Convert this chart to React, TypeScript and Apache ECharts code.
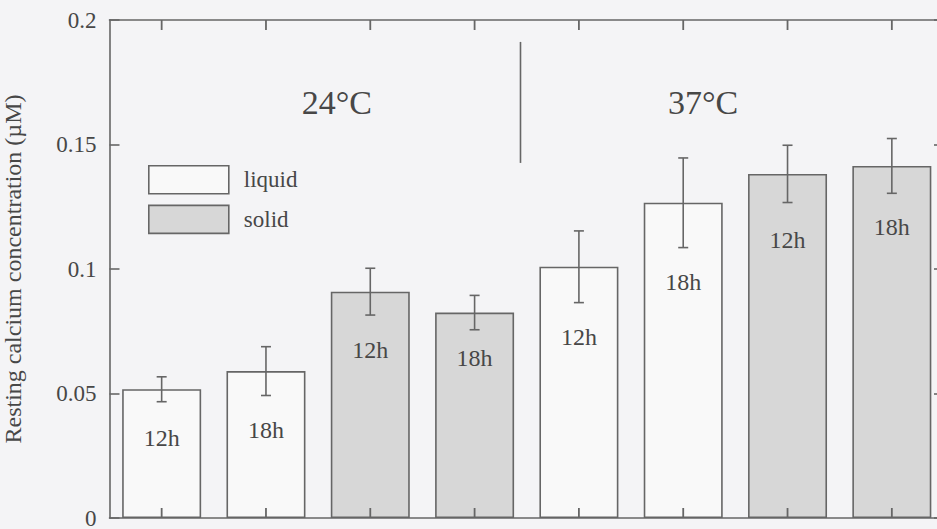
import React, { useEffect, useRef } from 'react';
import * as echarts from 'echarts';

// Resting calcium concentration (µM) by culture medium, temperature and time
const categories = [
  '24°C liquid 12h', '24°C liquid 18h', '24°C solid 12h', '24°C solid 18h',
  '37°C liquid 12h', '37°C liquid 18h', '37°C solid 12h', '37°C solid 18h',
];
const hourLabels = ['12h', '18h', '12h', '18h', '12h', '18h', '12h', '18h'];
const liquidValues = [0.0517, 0.059, null, null, 0.1009, 0.1266, null, null];
const solidValues = [null, null, 0.0909, 0.0825, null, null, 0.1382, 0.1414];
const errors = [0.005, 0.0098, 0.0094, 0.0069, 0.0144, 0.018, 0.0115, 0.011];
const temperatureLabels = ['24°C', '37°C'];
const yMin = 0;
const yMax = 0.2;
const yStep = 0.05;

// label placement inside each bar, pixels below the bar top
const labelDrop = [49, 59, 58, 45, 70, 79, 66, 61];

const FONT = 'Liberation Serif, serif';
const INK = '#666666';
const TEXT = '#474747';
const TICK_LEN = 10;

export default function App() {
  const ref = useRef<HTMLDivElement>(null);

  useEffect(() => {
    if (!ref.current) return;
    const chart = echarts.init(ref.current, null, { renderer: 'svg' });

    const barData = (vals: (number | null)[]) =>
      vals.map((v, i) =>
        v == null
          ? '-'
          : { value: v, label: { position: ['50%', labelDrop[i]] } }
      );

    const barLabel = {
      show: true,
      align: 'center',
      verticalAlign: 'middle',
      fontFamily: FONT,
      fontSize: 24,
      color: TEXT,
      formatter: (p: any) => hourLabels[p.dataIndex],
    };

    const means = liquidValues.map((v, i) => (v == null ? solidValues[i] : v));
    const errorData = means.map((m, i) => [i, m, errors[i]]);

    const axisLine = { show: true, onZero: false, lineStyle: { color: INK, width: 1.6 } };
    const axisTick = { show: true, inside: true, length: TICK_LEN, lineStyle: { color: INK, width: 1.6 } };

    chart.setOption({
      animation: false,
      backgroundColor: '#f4f4f6',
      textStyle: { fontFamily: FONT },
      grid: {
        left: 109.5,
        right: -7,
        top: 20,
        bottom: 11,
        containLabel: false,
        outerBoundsMode: 'none',
      },
      legend: {
        data: ['liquid', 'solid'],
        orient: 'vertical',
        left: 148,
        top: 165,
        padding: 0,
        itemWidth: 80,
        itemHeight: 28,
        itemGap: 10,
        icon: 'rect',
        itemStyle: { borderColor: INK, borderWidth: 1.6 },
        textStyle: { fontFamily: FONT, fontSize: 23, color: TEXT, padding: [0, 0, 0, 10] },
      },
      xAxis: [
        {
          type: 'category',
          data: categories,
          position: 'bottom',
          z: 5,
          axisLine,
          axisTick: { show: false },
          axisLabel: { show: false },
          splitLine: { show: false },
        },
        {
          type: 'category',
          data: categories,
          position: 'top',
          z: 5,
          axisLine,
          axisTick: { show: false },
          axisLabel: { show: false },
          splitLine: { show: false },
        },
      ],
      yAxis: [
        {
          type: 'value',
          min: yMin,
          max: yMax,
          interval: yStep,
          position: 'left',
          z: 5,
          name: 'Resting calcium concentration (µM)',
          nameLocation: 'middle',
          nameGap: 85,
          nameTextStyle: { fontFamily: FONT, fontSize: 24, color: TEXT },
          axisLine,
          axisTick,
          axisLabel: { fontFamily: FONT, fontSize: 23, color: TEXT, margin: 13 },
          splitLine: { show: false },
        },
        {
          type: 'value',
          min: yMin,
          max: yMax,
          interval: yStep,
          position: 'right',
          z: 5,
          axisLine,
          axisTick,
          axisLabel: { show: false },
          splitLine: { show: false },
        },
      ],
      series: [
        {
          name: 'liquid',
          type: 'bar',
          data: barData(liquidValues),
          barWidth: 79,
          barGap: '-100%',
          itemStyle: { color: '#f9f9f9', borderColor: INK, borderWidth: 1.6 },
          label: barLabel,
          z: 2,
        },
        {
          name: 'solid',
          type: 'bar',
          data: barData(solidValues),
          barWidth: 79,
          barGap: '-100%',
          itemStyle: { color: '#d7d7d7', borderColor: INK, borderWidth: 1.6 },
          label: barLabel,
          z: 2,
        },
        {
          name: 'error',
          type: 'custom',
          z: 4,
          data: errorData,
          encode: { x: 0, y: 1 },
          renderItem: (_params: any, api: any) => {
            const x = api.value(0);
            const m = api.value(1);
            const e = api.value(2);
            const hi = api.coord([x, m + e]);
            const lo = api.coord([x, m - e]);
            const cap = 5;
            const style = { stroke: INK, lineWidth: 1.6 };
            return {
              type: 'group',
              children: [
                { type: 'line', shape: { x1: hi[0], y1: hi[1], x2: lo[0], y2: lo[1] }, style },
                { type: 'line', shape: { x1: hi[0] - cap, y1: hi[1], x2: hi[0] + cap, y2: hi[1] }, style },
                { type: 'line', shape: { x1: lo[0] - cap, y1: lo[1], x2: lo[0] + cap, y2: lo[1] }, style },
              ],
            };
          },
        },
        {
          name: 'temperature',
          type: 'custom',
          z: 4,
          silent: true,
          // separator between the two temperature groups, after category index 3
          data: [[3, 0.1912, 0.1426, 0.1667]],
          encode: { x: 0, y: 1 },
          renderItem: (_params: any, api: any) => {
            const x = api.value(0);
            const top = api.coord([x, api.value(1)]);
            const bottom = api.coord([x, api.value(2)]);
            const textY = api.coord([x, api.value(3)])[1];
            const band = api.size([1, 0])[0];
            const sx = top[0] + band * 0.44;
            const textStyle = {
              fill: TEXT,
              fontFamily: FONT,
              fontSize: 34,
              align: 'center',
              verticalAlign: 'middle',
            };
            return {
              type: 'group',
              children: [
                {
                  type: 'line',
                  shape: { x1: sx, y1: top[1], x2: sx, y2: bottom[1] },
                  style: { stroke: INK, lineWidth: 1.6 },
                },
                {
                  type: 'text',
                  x: sx - band * 1.76,
                  y: textY,
                  style: { ...textStyle, text: temperatureLabels[0] },
                },
                {
                  type: 'text',
                  x: sx + band * 1.75,
                  y: textY,
                  style: { ...textStyle, text: temperatureLabels[1] },
                },
              ],
            };
          },
        },
      ],
    });

    // category ticks on the bottom and top frame, pointing inward over the bars
    const tickLines: any[] = [];
    categories.forEach((_, i) => {
      const b = chart.convertToPixel({ gridIndex: 0 }, [i, yMin]) as number[];
      const t = chart.convertToPixel({ gridIndex: 0 }, [i, yMax]) as number[];
      const style = { stroke: INK, lineWidth: 1.8 };
      tickLines.push(
        { type: 'line', z: 10, silent: true, shape: { x1: b[0], y1: b[1], x2: b[0], y2: b[1] - TICK_LEN }, style },
        { type: 'line', z: 10, silent: true, shape: { x1: t[0], y1: t[1], x2: t[0], y2: t[1] + TICK_LEN }, style }
      );
    });
    chart.setOption({ graphic: tickLines });

    return () => chart.dispose();
  }, []);

  return (
    <div
      ref={ref}
      style={{ position: 'fixed', left: 0, top: 0, width: 937, height: 529 }}
    />
  );
}
